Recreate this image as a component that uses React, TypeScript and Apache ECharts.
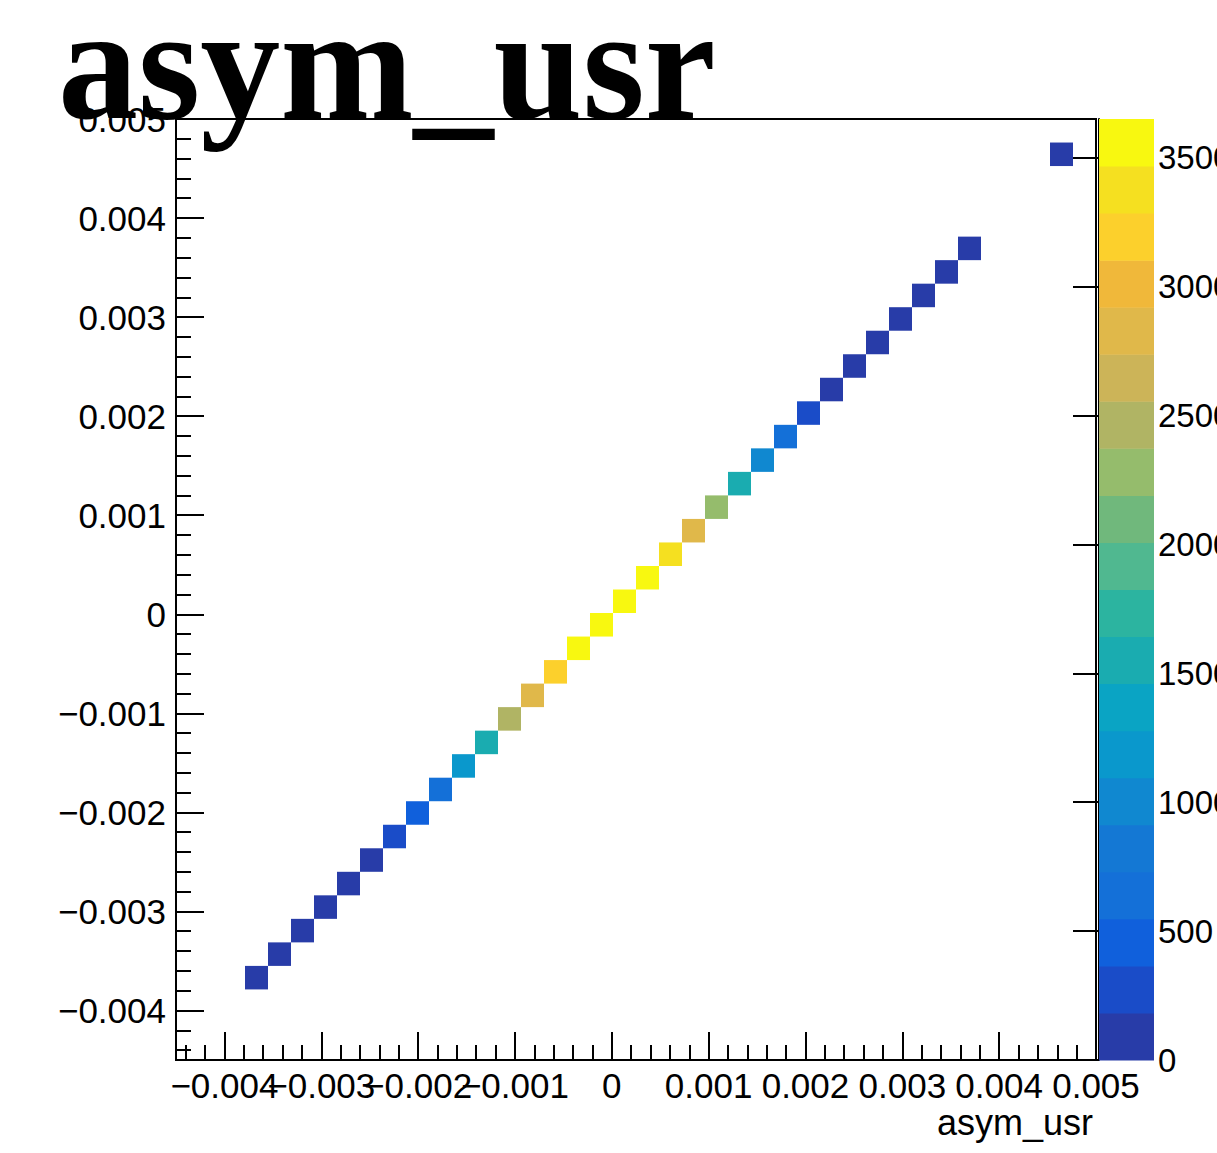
import React, { useEffect, useRef } from "react";
import * as echarts from "echarts";

// ---- histogram definition (ROOT TH2, 40 x 40 bins) ----
const X_MIN = -0.0045;
const X_MAX = 0.005;
const N_BINS = 40;
const BIN_W = (X_MAX - X_MIN) / N_BINS;

// filled bins (x bin index, y bin index, content)
const xBins = [3, 4, 5, 6, 7, 8, 9, 10, 11, 12, 13, 14, 15, 16, 17, 18, 19, 20, 21, 22, 23, 24, 25, 26, 27, 28, 29, 30, 31, 32, 33, 34, 38];
const yBins = [3, 4, 5, 6, 7, 8, 9, 10, 11, 12, 13, 14, 15, 16, 17, 18, 19, 20, 21, 22, 23, 24, 25, 26, 27, 28, 29, 30, 31, 32, 33, 34, 38];
const counts = [20, 40, 60, 90, 120, 160, 260, 450, 720, 1180, 1550, 2460, 2830, 3200, 3560, 3650, 3620, 3540, 3380, 2800, 2280, 1540, 1000, 640, 280, 150, 110, 80, 60, 40, 30, 20, 10];

// colour scale
const Z_MAX = 3650;
const N_CONTOURS = 20;
const bandColors = [
  "#283ca8", "#1a4cc8", "#1060dc", "#1470d8", "#1478d4",
  "#1088d0", "#0a98cc", "#0aa4c4", "#1aacb0", "#2cb4a0",
  "#50b890", "#70b87c", "#95bc6c", "#b0b464", "#ccb458",
  "#e0b84a", "#f0b83a", "#fcd02c", "#f5e020", "#f8f810",
];

// axis ticks (x labels split in two sets so that overlapping labels are all kept)
const xMajorTicksA = [-0.004, -0.002, 0, 0.002, 0.004];
const xMajorTicksB = [-0.003, -0.001, 0.001, 0.003, 0.005];
const yMajorTicks = [-0.004, -0.003, -0.002, -0.001, 0, 0.001, 0.002, 0.003, 0.004, 0.005];
const zTicks = [0, 500, 1000, 1500, 2000, 2500, 3000, 3500];

const TITLE = "asym_usr";
const X_TITLE = "asym_usr";

function minorTicks(): number[] {
  const out: number[] = [];
  for (let k = -22; k <= 25; k++) {
    if (k % 5 === 0) continue;
    out.push(Math.round(k * 2) / 10000);
  }
  return out;
}

function fmt(v: number): string {
  if (Math.abs(v) < 1e-10) return "0";
  return v.toFixed(3).replace("-", "\u2212");
}

const FONT = "Liberation Sans";
const LABEL_SIZE = 35;

export default function App() {
  const ref = useRef<HTMLDivElement>(null);
  useEffect(() => {
    if (!ref.current) return;
    const chart = echarts.init(ref.current, undefined, { renderer: "svg" });

    const binData = xBins.map((xb, i) => [X_MIN + xb * BIN_W, X_MIN + yBins[i] * BIN_W, counts[i]]);
    const bandW = Z_MAX / N_CONTOURS;
    const bandData = bandColors.map((_, k) => [0, k * bandW, (k + 1) * bandW]);
    const pieces = bandColors.map((c, k) =>
      k === N_CONTOURS - 1
        ? { gte: k * bandW, color: c }
        : { gte: k * bandW, lt: (k + 1) * bandW, color: c }
    );
    const minors = minorTicks();

    const mainAxisCommon = {
      min: X_MIN,
      max: X_MAX,
      type: "value" as const,
      splitLine: { show: false },
    };
    const tickStyle = { color: "#000", width: 2 };
    const labelStyle = {
      show: true,
      showMinLabel: true,
      showMaxLabel: true,
      hideOverlap: false,
      formatter: (v: number) => fmt(v),
      color: "#000",
      fontFamily: FONT,
      fontSize: LABEL_SIZE,
    };

    const xMajorAxis = (vals: number[], withLine: boolean) => ({
      ...mainAxisCommon,
      gridIndex: 0,
      position: "bottom",
      axisLine: { show: withLine, onZero: false, lineStyle: tickStyle },
      axisTick: { show: true, inside: true, length: 28, lineStyle: tickStyle, customValues: vals },
      axisLabel: { ...labelStyle, customValues: vals, margin: 8 },
    });

    chart.setOption({
      animation: false,
      backgroundColor: "#ffffff",
      grid: [
        { left: 176, top: 119, width: 920, height: 941, show: true, borderColor: "#000", borderWidth: 2, backgroundColor: "transparent", outerBoundsMode: "none" },
        { left: 1099, top: 119, width: 55, height: 941, show: false, outerBoundsMode: "none" },
      ],
      visualMap: {
        type: "piecewise",
        show: false,
        dimension: 2,
        seriesIndex: 0,
        pieces,
      },
      xAxis: [
        xMajorAxis(xMajorTicksA, true),
        xMajorAxis(xMajorTicksB, false),
        {
          ...mainAxisCommon,
          gridIndex: 0,
          position: "bottom",
          axisLine: { show: false, onZero: false },
          axisTick: { show: true, inside: true, length: 15, lineStyle: tickStyle, customValues: minors },
          axisLabel: { show: false },
        },
        {
          type: "value",
          gridIndex: 1,
          min: 0,
          max: 1,
          show: false,
        },
      ],
      yAxis: [
        {
          ...mainAxisCommon,
          gridIndex: 0,
          position: "left",
          axisLine: { show: true, onZero: false, lineStyle: tickStyle },
          axisTick: { show: true, inside: true, length: 28, lineStyle: tickStyle, customValues: yMajorTicks },
          axisLabel: { ...labelStyle, customValues: yMajorTicks, margin: 10 },
        },
        {
          ...mainAxisCommon,
          gridIndex: 0,
          position: "left",
          axisLine: { show: false, onZero: false },
          axisTick: { show: true, inside: true, length: 15, lineStyle: tickStyle, customValues: minors },
          axisLabel: { show: false },
        },
        {
          type: "value",
          gridIndex: 1,
          position: "right",
          min: 0,
          max: Z_MAX,
          splitLine: { show: false },
          axisLine: { show: true, lineStyle: tickStyle },
          axisTick: { show: true, inside: true, length: 26, lineStyle: tickStyle, customValues: zTicks },
          axisLabel: {
            ...labelStyle,
            customValues: zTicks,
            formatter: (v: number) => String(v),
            fontSize: 33,
            margin: 4,
          },
        },
      ],
      series: [
        {
          type: "custom",
          xAxisIndex: 0,
          yAxisIndex: 0,
          clip: true,
          encode: { x: 0, y: 1 },
          data: binData,
          renderItem: (params: any, api: any) => {
            const x0 = api.value(0);
            const y0 = api.value(1);
            const p0 = api.coord([x0, y0 + BIN_W]);
            const p1 = api.coord([x0 + BIN_W, y0]);
            return {
              type: "rect",
              shape: { x: p0[0], y: p0[1], width: p1[0] - p0[0], height: p1[1] - p0[1] },
              style: { fill: api.visual("color") },
            };
          },
        },
        {
          type: "custom",
          xAxisIndex: 3,
          yAxisIndex: 2,
          encode: { x: 0, y: [1, 2] },
          data: bandData,
          renderItem: (params: any, api: any) => {
            const lo = api.value(1);
            const hi = api.value(2);
            const p0 = api.coord([0, hi]);
            const p1 = api.coord([1, lo]);
            return {
              type: "rect",
              shape: { x: p0[0], y: p0[1], width: p1[0] - p0[0], height: p1[1] - p0[1] + 0.5 },
              style: { fill: bandColors[params.dataIndex] },
            };
          },
        },
      ],
      graphic: [
        {
          type: "text",
          z: 100,
          x: 1093,
          y: 1122,
          style: {
            text: X_TITLE,
            fill: "#000",
            font: `36px "${FONT}"`,
            align: "right",
            verticalAlign: "middle",
          },
        },
        {
          type: "text",
          z: 100,
          x: 58,
          y: 64,
          style: {
            text: TITLE,
            fill: "#000",
            font: 'bold 160px "Liberation Serif"',
            align: "left",
            verticalAlign: "middle",
          },
        },
      ],
    });
    return () => chart.dispose();
  }, []);
  return <div ref={ref} style={{ position: "absolute", left: 0, top: 0, width: 1217, height: 1153 }} />;
}
